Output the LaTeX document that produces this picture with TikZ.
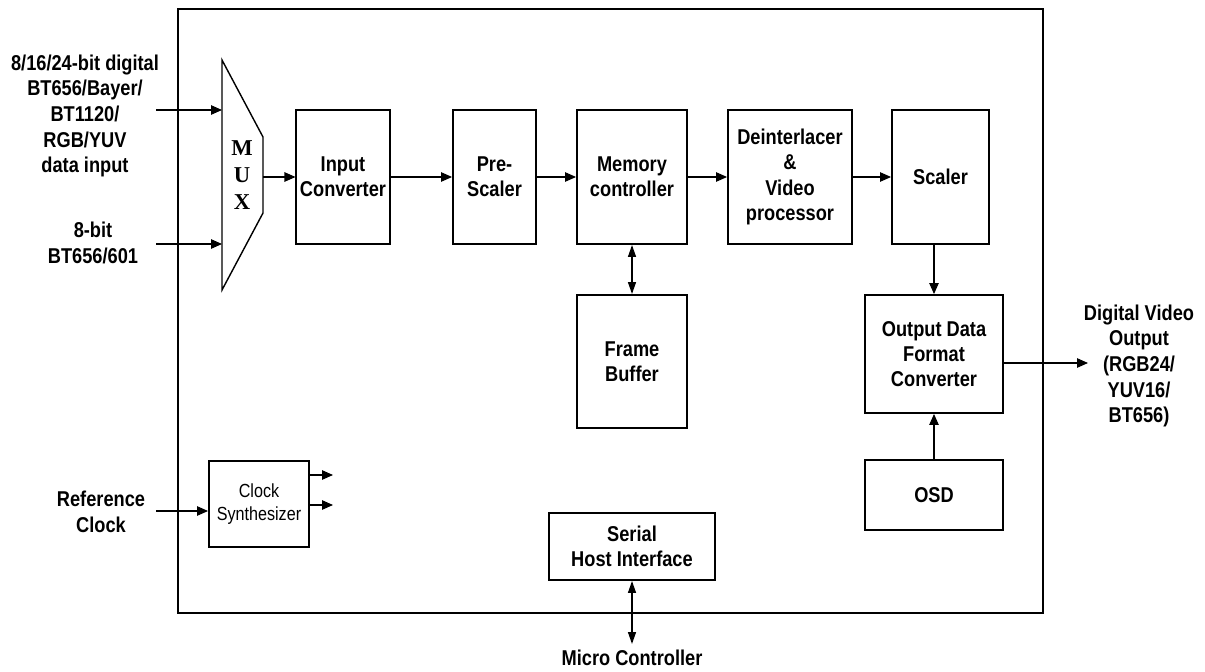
\documentclass[tikz,border=0pt]{standalone}
\usepackage{fontspec}
\setmainfont{Liberation Sans}[FakeStretch=0.85]
\newfontfamily\muxfont{Liberation Serif}
\usepackage{tikz}
\usetikzlibrary{arrows.meta, positioning, calc}
\tikzset{
  vidblock/.style={
    draw, line width=1.1pt, align=center, inner sep=2pt,
    font=\bfseries\fontsize{12.2}{14.4}\selectfont
  },
  vidarrow/.style={
    -{Triangle[length=2.2mm, width=1.9mm]}, line width=0.6pt
  },
  vidarrowboth/.style={
    {Triangle[length=2.4mm, width=1.6mm]}-{Triangle[length=2.4mm, width=1.6mm]},
    line width=0.8pt
  },
  vidlabel/.style={
    align=center, font=\bfseries\fontsize{12.2}{14.6}\selectfont
  },
}

\begin{document}
\begin{tikzpicture}[
  x=0.2mm, y=-0.2mm,
  mainblock/.style={vidblock, minimum height=2.68cm},
  sideblock/.style={vidblock, minimum width=2.76cm},
]
  \useasboundingbox (0,0) rectangle (1205,672);

  % --- Chip outline ---
  \draw[line width=1.1pt] (178,9) rectangle (1043,613);

  % --- Input MUX ---
  \coordinate (muxin1) at (222,110);
  \coordinate (muxin2) at (222,244);
  \coordinate (muxout) at (263,177);
  \draw[line width=0.8pt] (222,60) -- (263,137) -- (263,213) -- (222,290) -- cycle;
  \node[font=\muxfont\bfseries\fontsize{12.9}{15.3}\selectfont, align=center]
    (muxlbl) at (242,175) {M\\U\\X};

  % --- Video pipeline ---
  \node[mainblock, minimum width=1.70cm] (inconv) at (343,177) {Input\\Converter};
  \node[mainblock, minimum width=1.66cm] (prescale) at (494.5,177) {Pre-\\Scaler};
  \node[mainblock, minimum width=2.20cm] (memctrl) at (632,177) {Memory\\controller};
  \node[mainblock, minimum width=2.48cm] (deint) at (790,177)
    {Deinterlacer\\\&\\Video\\processor};
  \node[mainblock, minimum width=1.94cm] (scaler) at (940.5,177) {Scaler};

  \node[vidblock, minimum width=2.20cm, minimum height=2.66cm] (framebuf)
    at (632,361.5) {Frame\\Buffer};
  \node[sideblock, minimum height=2.36cm] (odfc) at (934,354)
    {Output Data\\Format\\Converter};
  \node[sideblock, minimum height=1.40cm] (osd) at (934,495) {OSD};

  \node[vidblock, minimum width=2.00cm, minimum height=1.72cm,
    font=\fontsize{10.8}{13}\selectfont] (clksyn) at (259,504) {Clock\\Synthesizer};
  \node[vidblock, minimum width=3.32cm, minimum height=1.34cm] (shi)
    at (632,546.5) {Serial\\Host Interface};

  % --- Outside labels ---
  \node[vidlabel] (datain) at (85,116)
    {8/16/24-bit digital\\BT656/Bayer/\\BT1120/\\RGB/YUV\\data input};
  \node[vidlabel] (bt656in) at (93,243) {8-bit\\BT656/601};
  \node[vidlabel] (refclk) at (101,512) {Reference\\Clock};
  \node[vidlabel] (vidout) at (1139,366)
    {Digital Video\\Output\\(RGB24/\\YUV16/\\BT656)};
  \node[vidlabel, anchor=north, inner sep=3pt] (mcu) at (632,644) {Micro Controller};

  \coordinate (datasrc) at (156,110);
  \coordinate (bt656src) at (156,244);
  \coordinate (refsrc) at (156,511);
  \coordinate (clkout1) at (333,475);
  \coordinate (clkout2) at (333,505);
  \coordinate (vidtip) at (1088,363);

  % --- Connectors ---
  \draw[vidarrow] (datasrc) -- (muxin1);
  \draw[vidarrow] (bt656src) -- (muxin2);
  \draw[vidarrow] (muxout) -- (inconv.west |- muxout);
  \draw[vidarrow] (inconv) -- (prescale);
  \draw[vidarrow] (prescale) -- (memctrl);
  \draw[vidarrow] (memctrl) -- (deint);
  \draw[vidarrow] (deint) -- (scaler);
  \draw[vidarrowboth] (memctrl.south) -- (framebuf.north);
  \draw[vidarrow] (odfc.north |- scaler.south) -- (odfc.north);
  \draw[vidarrow] (osd.north) -- (odfc.south);
  \draw[vidarrow] (odfc.east |- vidtip) -- (vidtip);
  \draw[vidarrow] (refsrc) -- (clksyn.west |- refsrc);
  \draw[vidarrow] (clksyn.east |- clkout1) -- (clkout1);
  \draw[vidarrow] (clksyn.east |- clkout2) -- (clkout2);
  \draw[vidarrowboth] (shi.south) -- (mcu.north);
\end{tikzpicture}
\end{document}
